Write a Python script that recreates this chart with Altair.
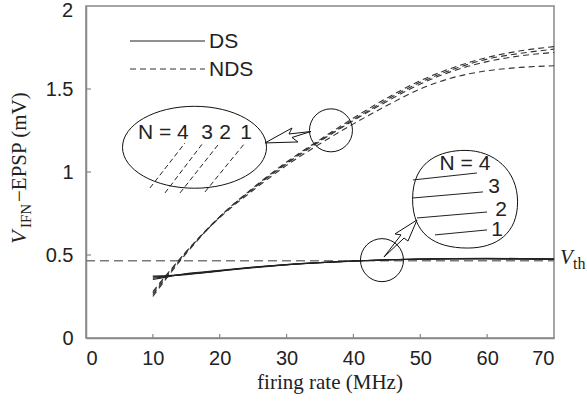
import altair as alt
import pandas as pd

# ---------------- data ----------------
rate = [10, 15, 20, 25, 30, 35, 40, 45, 50, 55, 60, 65, 70]
nds_n4 = [0.25, 0.51, 0.73, 0.905, 1.06, 1.195, 1.325, 1.445, 1.55, 1.63, 1.69, 1.73, 1.755]
nds_n3 = [0.26, 0.515, 0.73, 0.90, 1.055, 1.19, 1.315, 1.435, 1.54, 1.62, 1.68, 1.715, 1.74]
nds_n2 = [0.27, 0.52, 0.73, 0.90, 1.05, 1.185, 1.31, 1.425, 1.53, 1.61, 1.665, 1.70, 1.72]
nds_n1 = [0.28, 0.52, 0.725, 0.89, 1.04, 1.17, 1.29, 1.40, 1.50, 1.57, 1.61, 1.63, 1.64]
ds_n4 = [0.373, 0.382, 0.403, 0.423, 0.44, 0.453, 0.463, 0.471, 0.476, 0.479, 0.48, 0.479, 0.477]
ds_n3 = [0.367, 0.384, 0.405, 0.425, 0.441, 0.454, 0.464, 0.471, 0.476, 0.478, 0.479, 0.478, 0.476]
ds_n2 = [0.36, 0.386, 0.406, 0.426, 0.442, 0.454, 0.464, 0.471, 0.475, 0.477, 0.478, 0.477, 0.475]
ds_n1 = [0.352, 0.388, 0.408, 0.427, 0.443, 0.455, 0.464, 0.47, 0.474, 0.476, 0.476, 0.475, 0.473]
v_th = 0.465
x_ticks = [0, 10, 20, 30, 40, 50, 60, 70]
y_ticks = [0, 0.5, 1, 1.5, 2]

# annotation geometry (data units)
ellipse_center = (16.23, 1.149)
circle_centers_x = [36.64, 44.27]
circle_centers_y = [1.251, 0.469]
blob_center = (56.7, 0.836)
arrow1_x = [26.77, 30.81, 30.36, 33.65, 30.81, 31.71, 26.77]
arrow1_y = [1.175, 1.265, 1.229, 1.244, 1.208, 1.181, 1.175]
arrow2_x = [49.51, 46.22, 47.12, 44.57, 47.57, 48.16, 49.51]
arrow2_y = [0.711, 0.627, 0.621, 0.488, 0.602, 0.584, 0.711]
ell_lines_x1 = [9.57, 11.82, 14.06, 17.80]
ell_lines_y1 = [0.904, 0.874, 0.874, 0.880]
ell_lines_x2 = [14.81, 17.50, 19.74, 23.78]
ell_lines_y2 = [1.175, 1.175, 1.163, 1.175]
blob_lines_x1 = [48.91, 48.76, 49.51, 52.20]
blob_lines_y1 = [0.952, 0.843, 0.723, 0.621]
blob_lines_x2 = [58.48, 59.38, 59.98, 59.98]
blob_lines_y2 = [0.994, 0.880, 0.759, 0.651]

SANS = "Liberation Sans"
SERIF = "Liberation Serif"
INK = "#222222"
AX = "#888888"

W, H = 468, 332
xs = alt.Scale(domain=[0, 70], nice=False, zero=False)
ys = alt.Scale(domain=[0, 2], nice=False, zero=False)

# ---------------- curves ----------------
rows = []
for name, vals in [("N4", nds_n4), ("N3", nds_n3), ("N2", nds_n2), ("N1", nds_n1)]:
    for r, v in zip(rate, vals):
        rows.append({"rate": r, "v": v, "s": "NDS" + name})
nds_df = pd.DataFrame(rows)
rows = []
for name, vals in [("N4", ds_n4), ("N3", ds_n3), ("N2", ds_n2), ("N1", ds_n1)]:
    for r, v in zip(rate, vals):
        rows.append({"rate": r, "v": v, "s": "DS" + name})
ds_df = pd.DataFrame(rows)

base_axes = alt.Chart(pd.DataFrame({"x": [0, 70], "y": [0, 2]})).mark_point(opacity=0).encode(
    x=alt.X("x:Q", scale=xs, axis=alt.Axis(values=x_ticks, title=None, ticks=False, grid=False,
                                           labelFont=SANS, labelFontSize=20, labelColor=INK,
                                           labelPadding=10, domainColor=AX, domainWidth=1.5)),
    y=alt.Y("y:Q", scale=ys, axis=alt.Axis(values=y_ticks[:-1], title=None, ticks=False, grid=False,
                                           format="~g", labelFont=SANS, labelFontSize=20,
                                           labelColor=INK, labelPadding=13, domainColor=AX,
                                           domainWidth=1.5)),
)
top_label = alt.Chart(pd.DataFrame({"y": [y_ticks[-1]], "t": ["2"]})).mark_text(
    font=SANS, fontSize=20, color=INK, align="right", baseline="middle", dy=5).encode(
    x=alt.value(-13), y=alt.Y("y:Q", scale=ys), text="t:N")

xtick_layer = alt.Chart(pd.DataFrame({"t": x_ticks[1:-1]})).mark_rule(color=AX, strokeWidth=1.2).encode(
    x=alt.X("t:Q", scale=xs), y=alt.value(H), y2=alt.value(H - 4))
ytick_layer = alt.Chart(pd.DataFrame({"t": y_ticks[1:-1]})).mark_rule(color=AX, strokeWidth=1.2).encode(
    y=alt.Y("t:Q", scale=ys), x=alt.value(0), x2=alt.value(5))

vth_layer = alt.Chart(pd.DataFrame({"x": [0, 70], "y": [v_th, v_th]})).mark_line(
    color="#7a7a7a", strokeWidth=1.6, strokeDash=[9, 5]).encode(
    x=alt.X("x:Q", scale=xs), y=alt.Y("y:Q", scale=ys))

nds_layer = alt.Chart(nds_df).mark_line(color="#333333", strokeWidth=1.1, strokeDash=[6, 4],
                                        interpolate="monotone").encode(
    x=alt.X("rate:Q", scale=xs), y=alt.Y("v:Q", scale=ys), detail="s:N")
ds_layer = alt.Chart(ds_df).mark_line(color="#222222", strokeWidth=1.1,
                                      interpolate="monotone").encode(
    x=alt.X("rate:Q", scale=xs), y=alt.Y("v:Q", scale=ys), detail="s:N")

# ---------------- annotations ----------------
ellipse_path = ("M-1,0 C-1,-0.314 -0.552,-0.569 0,-0.569 C0.552,-0.569 1,-0.314 1,0 "
                "C1,0.314 0.552,0.569 0,0.569 C-0.552,0.569 -1,0.314 -1,0 Z")
ellipse_layer = alt.Chart(pd.DataFrame({"x": [ellipse_center[0]], "y": [ellipse_center[1]]})).mark_point(
    shape=ellipse_path, size=144 * 144, filled=False, color="#111111", strokeWidth=1, opacity=1).encode(
    x=alt.X("x:Q", scale=xs), y=alt.Y("y:Q", scale=ys))

blob_path = ("M-1,0 C-1,-0.75 -0.45,-0.93 0,-0.93 C0.55,-0.93 1,-0.55 1,0.05 "
             "C1,0.65 0.6,0.93 0.05,0.93 C-0.6,0.93 -1,0.65 -1,0 Z")
blob_layer = alt.Chart(pd.DataFrame({"x": [blob_center[0]], "y": [blob_center[1]]})).mark_point(
    shape=blob_path, size=105 * 105, filled=False, color="#111111", strokeWidth=1, opacity=1).encode(
    x=alt.X("x:Q", scale=xs), y=alt.Y("y:Q", scale=ys))

circle_layer = alt.Chart(pd.DataFrame({"x": circle_centers_x, "y": circle_centers_y})).mark_point(
    shape="circle", size=43 * 43, filled=False, color="#111111", strokeWidth=1, opacity=1).encode(
    x=alt.X("x:Q", scale=xs), y=alt.Y("y:Q", scale=ys))

arrow_df = pd.DataFrame({
    "x": arrow1_x + arrow2_x,
    "y": arrow1_y + arrow2_y,
    "o": list(range(len(arrow1_x))) + list(range(len(arrow2_x))),
    "a": ["a1"] * len(arrow1_x) + ["a2"] * len(arrow2_x),
})
arrow_layer = alt.Chart(arrow_df).mark_line(color="#111111", strokeWidth=1).encode(
    x=alt.X("x:Q", scale=xs), y=alt.Y("y:Q", scale=ys), order="o:Q", detail="a:N")

ell_df = pd.DataFrame({"x": ell_lines_x1, "y": ell_lines_y1, "x2": ell_lines_x2, "y2": ell_lines_y2})
ell_lines = alt.Chart(ell_df).mark_rule(color="#222222", strokeWidth=1, strokeDash=[5, 3]).encode(
    x=alt.X("x:Q", scale=xs), y=alt.Y("y:Q", scale=ys), x2="x2:Q", y2="y2:Q")
blob_df = pd.DataFrame({"x": blob_lines_x1, "y": blob_lines_y1, "x2": blob_lines_x2, "y2": blob_lines_y2})
blob_lines = alt.Chart(blob_df).mark_rule(color="#222222", strokeWidth=1).encode(
    x=alt.X("x:Q", scale=xs), y=alt.Y("y:Q", scale=ys), x2="x2:Q", y2="y2:Q")

ann_text_df = pd.DataFrame({
    "x": [18.10, 20.79, 23.93, 56.69, 61.03, 62.1, 61.48],
    "y": [1.235, 1.235, 1.235, 1.048, 0.910, 0.771, 0.651],
    "t": ["3", "2", "1", "N = 4", "3", "2", "1"],
})
ann_text = alt.Chart(ann_text_df).mark_text(font=SANS, fontSize=21, color=INK, align="center",
                                            baseline="middle").encode(
    x=alt.X("x:Q", scale=xs), y=alt.Y("y:Q", scale=ys), text="t:N")
ann_text2 = alt.Chart(pd.DataFrame({"x": [7.78], "y": [1.235], "t": ["N = 4"]})).mark_text(
    font=SANS, fontSize=21, color=INK, align="left", baseline="middle").encode(
    x=alt.X("x:Q", scale=xs), y=alt.Y("y:Q", scale=ys), text="t:N")

# ---------------- legend ----------------
one = pd.DataFrame({"k": [0]})
leg_ds = alt.Chart(one).mark_rule(color="#222222", strokeWidth=1.1).encode(
    x=alt.value(44), x2=alt.value(119), y=alt.value(35))
leg_nds = alt.Chart(one).mark_rule(color="#333333", strokeWidth=1.1, strokeDash=[6, 4]).encode(
    x=alt.value(44), x2=alt.value(119), y=alt.value(63))
leg_t1 = alt.Chart(one).mark_text(text="DS", font=SANS, fontSize=21, color=INK, align="left",
                                  baseline="middle").encode(x=alt.value(123), y=alt.value(36))
leg_t2 = alt.Chart(one).mark_text(text="NDS", font=SANS, fontSize=21, color=INK, align="left",
                                  baseline="middle").encode(x=alt.value(123), y=alt.value(64))

# ---------------- titles ----------------
xtitle = alt.Chart(one).mark_text(text="firing rate (MHz)", font=SERIF, fontSize=21, color=INK,
                                  align="center", baseline="alphabetic").encode(
    x=alt.value(244), y=alt.value(383))
yt_v = alt.Chart(one).mark_text(text="V", font=SERIF, fontStyle="italic", fontSize=22, color=INK,
                                align="left", baseline="alphabetic", angle=270).encode(
    x=alt.value(-60), y=alt.value(238))
yt_sub = alt.Chart(one).mark_text(text="IFN", font=SERIF, fontSize=15, color=INK,
                                  align="left", baseline="alphabetic", angle=270).encode(
    x=alt.value(-55), y=alt.value(222))
yt_rest = alt.Chart(one).mark_text(text="\u2212EPSP (mV)", font=SERIF, fontSize=21, color=INK,
                                   align="left", baseline="alphabetic", angle=270).encode(
    x=alt.value(-60), y=alt.value(196))
vth_v = alt.Chart(one).mark_text(text="V", font=SERIF, fontStyle="italic", fontSize=21, color=INK,
                                 align="left", baseline="alphabetic").encode(
    x=alt.value(474), y=alt.value(258))
vth_sub = alt.Chart(one).mark_text(text="th", font=SERIF, fontSize=16, color=INK,
                                   align="left", baseline="alphabetic").encode(
    x=alt.value(487), y=alt.value(263))

chart = alt.layer(
    base_axes, top_label, xtick_layer, ytick_layer, vth_layer, nds_layer, ds_layer,
    ellipse_layer, blob_layer, circle_layer, arrow_layer, ell_lines, blob_lines,
    ann_text, ann_text2, leg_ds, leg_nds, leg_t1, leg_t2,
    xtitle, yt_v, yt_sub, yt_rest, vth_v, vth_sub,
).properties(
    width=W, height=H,
    autosize="none",
    padding={"left": 86, "top": 6, "right": 33, "bottom": 65},
    background="white",
).configure_view(stroke=AX, strokeWidth=1.5)

chart.save("out.html", embed_options={"renderer": "svg", "actions": False})
